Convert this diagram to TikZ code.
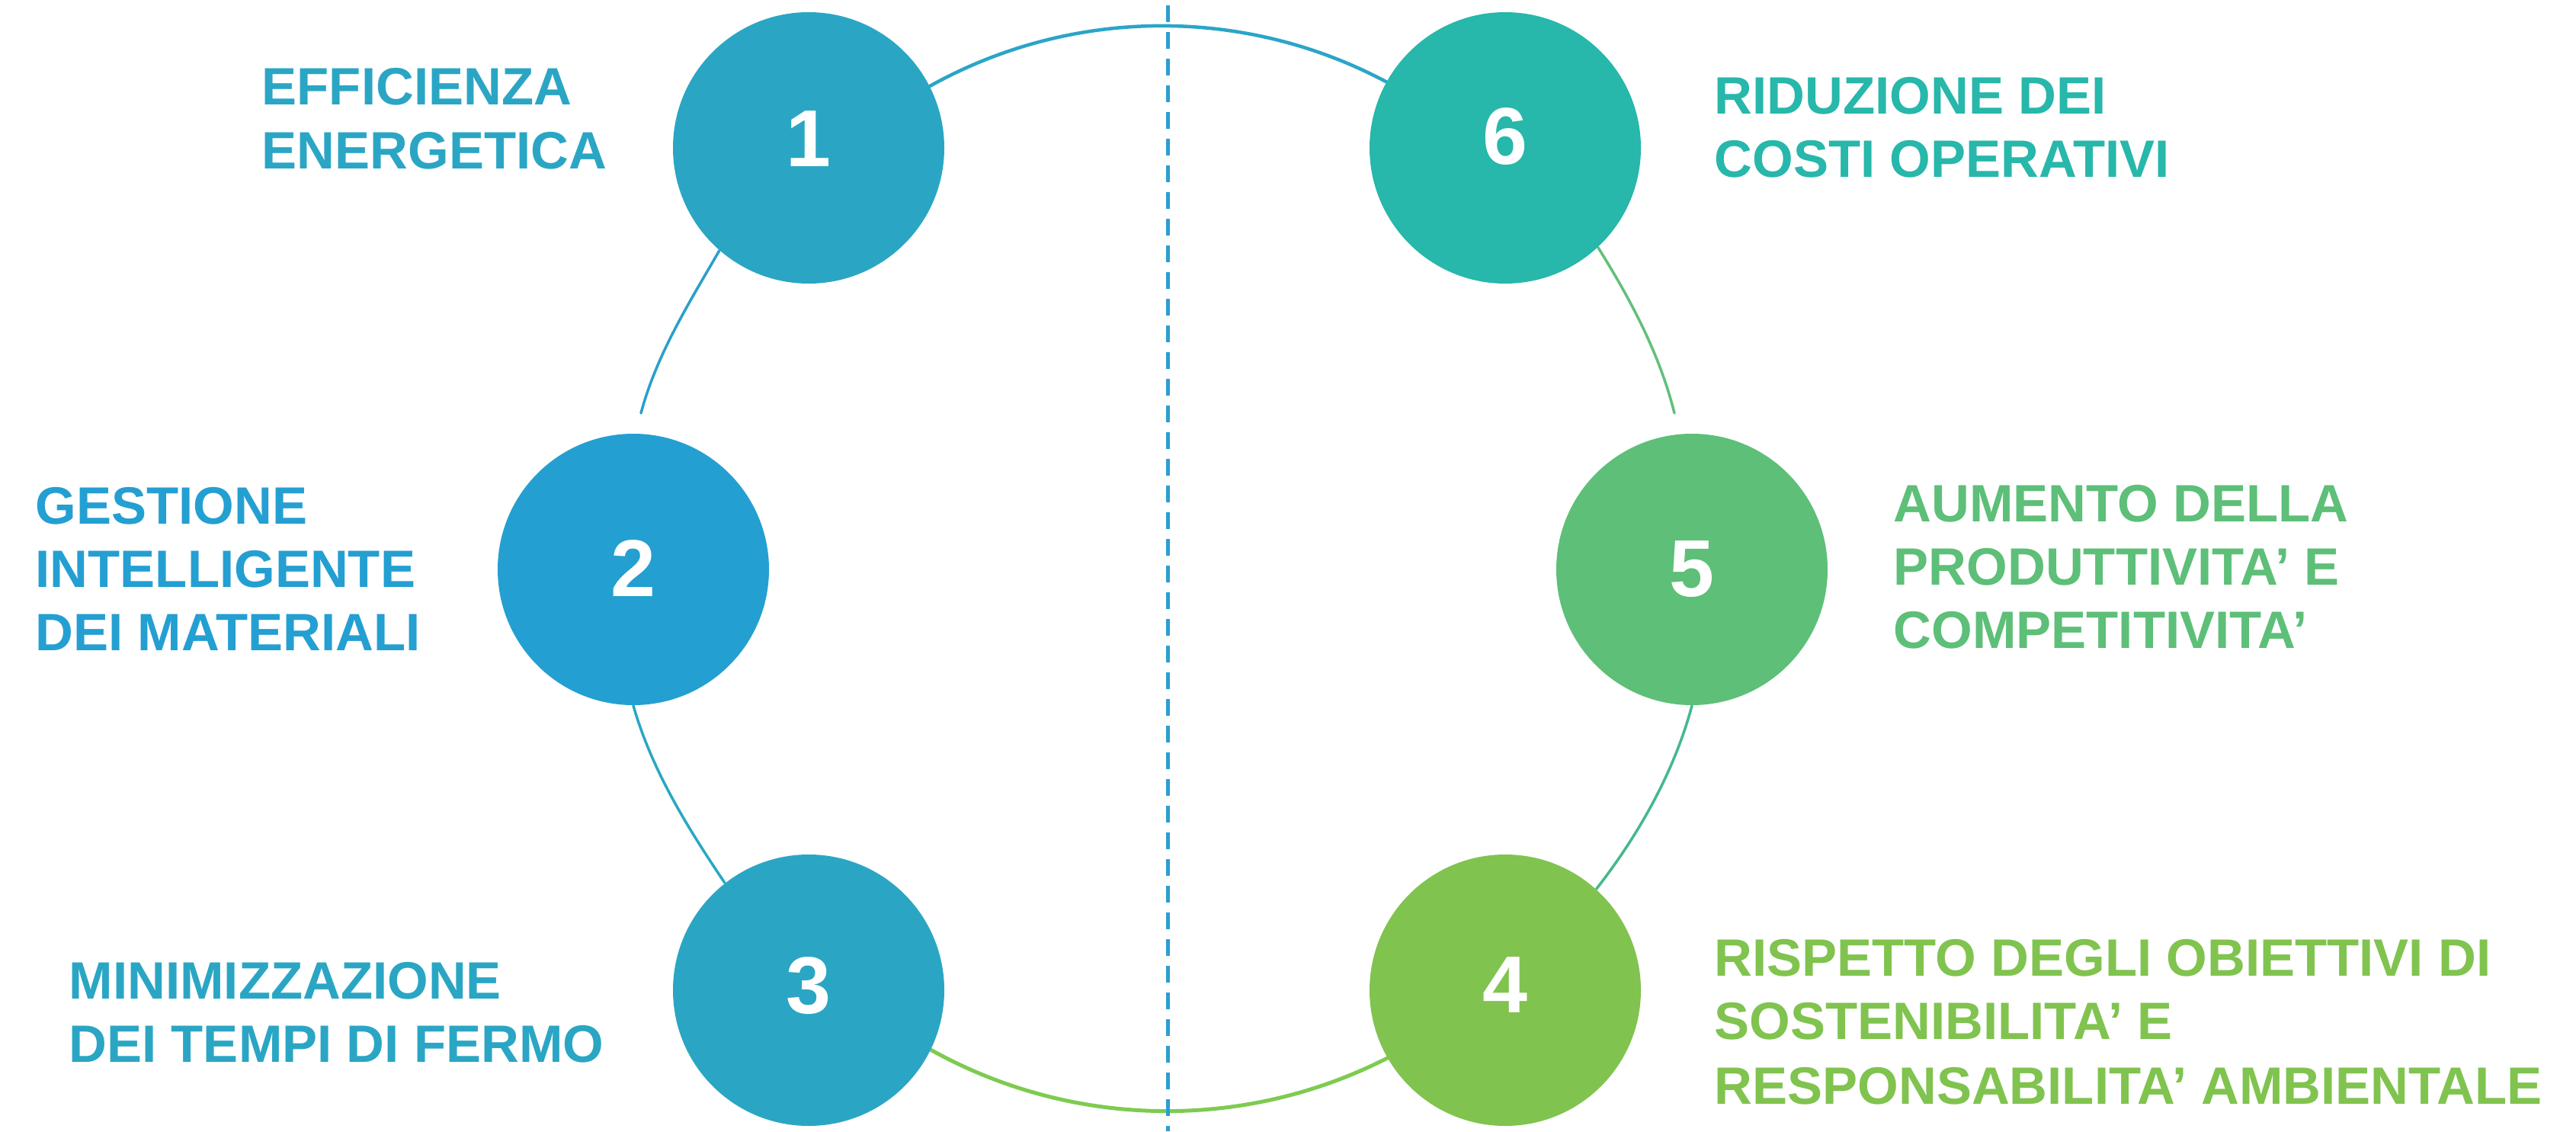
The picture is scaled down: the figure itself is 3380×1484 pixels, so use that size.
\documentclass[tikz,border=0pt]{standalone}
\usepackage{fontspec}
\setmainfont{Liberation Sans}
\pgfdeclarelayer{bg}
\pgfsetlayers{bg,main}
\definecolor{colA}{HTML}{2AA6C4}
\definecolor{colB}{HTML}{249FD2}
\definecolor{colF}{HTML}{27B7AB}
\definecolor{colE}{HTML}{5DBF78}
\definecolor{colD}{HTML}{80C34F}
\definecolor{arcTop}{HTML}{2AA5C8}
\definecolor{arcLeftA}{HTML}{2A9FCC}
\definecolor{arcLeftB}{HTML}{2AA7C3}
\definecolor{arcRightA}{HTML}{62C07A}
\definecolor{arcRightB}{HTML}{45B88C}
\definecolor{arcBottom}{HTML}{7DCB50}
\definecolor{dashcol}{HTML}{2A9FD2}
\begin{document}
\begin{tikzpicture}[x=0.1mm,y=0.1mm,
  dot/.style={circle, minimum size=35.6mm, inner sep=0pt, draw=none},
  num/.style={text=white, font=\fontsize{10.6mm}{12mm}\selectfont\bfseries, inner sep=0pt},
  lab/.style={anchor=base west, inner sep=0pt, font=\fontsize{6.9mm}{8.4mm}\selectfont\bfseries},
  ringline/.style={line cap=round},
  dashline/.style={line width=0.5mm, dashcol, dash pattern=on 2.2mm off 1.3mm}
]
\useasboundingbox (0,0) rectangle (3380,1484);

% circles
\node[dot, fill=colA] (c1) at (1061,1290) {};
\node[dot, fill=colB] (c2) at (831,737) {};
\node[dot, fill=colA] (c3) at (1061,185) {};
\node[dot, fill=colF] (c6) at (1975,1290) {};
\node[dot, fill=colE] (c5) at (2220,737) {};
\node[dot, fill=colD] (c4) at (1975,185) {};

% numbers
\node[num] (n1) at (1061,1302) {1};
\node[num] (n2) at (831,739) {2};
\node[num] (n3) at (1061,191) {3};
\node[num] (n6) at (1975,1305) {6};
\node[num] (n5) at (2220,737) {5};
\node[num] (n4) at (1975,192) {4};

% free ends and dashed line ends
\coordinate (g2) at (841,942);
\coordinate (g5) at (2197,942);
\coordinate (dtop) at (1532,1477);
\coordinate (dbot) at (1532,0);

\begin{pgfonlayer}{bg}
\fill[white] (0,0) rectangle (3380,1484);
\draw[ringline, line width=0.45mm, arcTop] (c1.27) arc[start angle=119.1, end angle=61.5, radius=626];
\draw[ringline, line width=0.35mm, arcLeftA] (c1.229) .. controls +(240:80) and +(75:80) .. (g2);
\draw[ringline, line width=0.35mm, arcLeftB] (c2.270) .. controls +(286:88) and +(124:88) .. (c3.128);
\draw[ringline, line width=0.35mm, arcRightA] (c6.313) .. controls +(302:80) and +(104:80) .. (g5);
\draw[ringline, line width=0.35mm, arcRightB] (c5.270) .. controls +(255:90) and +(52:90) .. (c4.48);
\draw[ringline, line width=0.5mm, arcBottom] (c3.334) arc[start angle=240.9, end angle=298, radius=636];
\draw[dashline] (dtop) -- (dbot);
\end{pgfonlayer}

% labels
\node[lab, text=colA] (t1a) at (343,1346) {EFFICIENZA};
\node[lab, text=colA] (t1b) at (343,1262) {ENERGETICA};
\node[lab, text=colB] (t2a) at (46,797) {GESTIONE};
\node[lab, text=colB] (t2b) at (46,714) {INTELLIGENTE};
\node[lab, text=colB] (t2c) at (46,631) {DEI MATERIALI};
\node[lab, text=colA] (t3a) at (90,174) {MINIMIZZAZIONE};
\node[lab, text=colA] (t3b) at (90,91) {DEI TEMPI DI FERMO};
\node[lab, text=colF] (t6a) at (2249,1334) {RIDUZIONE DEI};
\node[lab, text=colF] (t6b) at (2249,1251) {COSTI OPERATIVI};
\node[lab, text=colE] (t5a) at (2484,800) {AUMENTO DELLA};
\node[lab, text=colE] (t5b) at (2484,717) {PRODUTTIVITA’ E};
\node[lab, text=colE] (t5c) at (2484,634) {COMPETITIVITA’};
\node[lab, text=colD] (t4a) at (2249,204) {RISPETTO DEGLI OBIETTIVI DI};
\node[lab, text=colD] (t4b) at (2249,121) {SOSTENIBILITA’ E};
\node[lab, text=colD] (t4c) at (2249,36) {RESPONSABILITA’ AMBIENTALE};
\end{tikzpicture}
\end{document}
